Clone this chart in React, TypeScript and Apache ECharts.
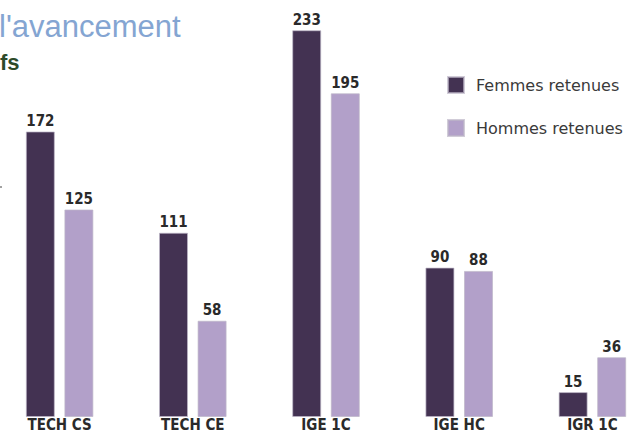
import React, { useEffect, useRef } from "react";
import * as echarts from "echarts";

// Grades and the number of people retained in each
const categories = ["TECH CS", "TECH CE", "IGE 1C", "IGE HC", "IGR 1C"];
const femmesRetenues = [172, 111, 233, 90, 15];
const hommesRetenues = [125, 58, 195, 88, 36];
const seriesNames = ["Femmes retenues", "Hommes retenues"];

const DARK = "#433252";
const LIGHT = "#b2a0c9";

// The chart canvas is wider than the visible frame and shifted left,
// so the outer groups sit partly against the frame edges.
const SHIFT = 7;

export default function App() {
  const ref = useRef<HTMLDivElement>(null);

  useEffect(() => {
    if (!ref.current) return;
    const chart = echarts.init(ref.current, null, { renderer: "svg" });

    const valueLabel = {
      show: true,
      position: "top" as const,
      distance: 3,
      fontFamily: "DejaVu Sans Condensed",
      fontWeight: "bold" as const,
      fontSize: 15,
      color: "#2a2a2a",
    };
    const barBorder = { borderColor: "rgba(190,182,200,0.7)", borderWidth: 1 };

    chart.setOption({
      animation: false,
      backgroundColor: "#ffffff",
      grid: {
        left: 0,
        width: 666,
        top: 2,
        height: 415,
        outerBoundsMode: "none",
        containLabel: false,
      },
      xAxis: {
        type: "category",
        data: categories,
        axisLine: { show: false },
        axisTick: { show: false },
        axisLabel: {
          margin: 2,
          fontFamily: "DejaVu Sans Condensed",
          fontWeight: "bold",
          fontSize: 15,
          lineHeight: 12,
          color: "#2a2a2a",
        },
      },
      yAxis: {
        type: "value",
        min: 0,
        max: 250,
        show: false,
        splitLine: { show: false },
      },
      legend: {
        orient: "vertical",
        left: 442 + SHIFT,
        top: 71,
        itemWidth: 16,
        itemHeight: 16,
        itemGap: 25,
        icon: "rect",
        data: seriesNames,
        textStyle: {
          fontFamily: "DejaVu Sans",
          fontSize: 16,
          color: "#3a3a3a",
          padding: [0, 0, 0, 7],
        },
      },
      series: [
        {
          name: seriesNames[0],
          type: "bar",
          data: femmesRetenues,
          barWidth: 29,
          barGap: "33%",
          itemStyle: { color: DARK, ...barBorder },
          label: valueLabel,
        },
        {
          name: seriesNames[1],
          type: "bar",
          data: hommesRetenues,
          barWidth: 29,
          itemStyle: { color: LIGHT, ...barBorder },
          label: valueLabel,
        },
      ],
      graphic: [
        {
          type: "text",
          left: -1 + SHIFT,
          top: 11,
          style: {
            text: "l'avancement",
            fontFamily: "Liberation Sans",
            fontSize: 31,
            fill: "#84a5d2",
          },
        },
        {
          type: "text",
          left: 0 + SHIFT,
          top: 51,
          style: {
            text: "fs",
            fontFamily: "Liberation Sans",
            fontWeight: "bold",
            fontSize: 22,
            fill: "#2d4a2a",
          },
        },
        {
          type: "line",
          shape: { x1: SHIFT, y1: 187, x2: SHIFT + 2, y2: 187 },
          style: { stroke: "#444", lineWidth: 1 },
        },
      ],
    });

    return () => chart.dispose();
  }, []);

  return (
    <div
      style={{
        position: "absolute",
        left: 0,
        top: 0,
        width: 628,
        height: 433,
        overflow: "hidden",
        background: "#ffffff",
      }}
    >
      <div
        ref={ref}
        style={{ position: "absolute", left: -SHIFT, top: 0, width: 680, height: 433 }}
      />
    </div>
  );
}
